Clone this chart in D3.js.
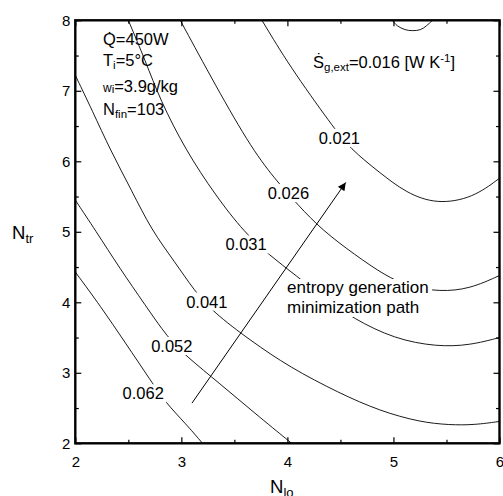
<!DOCTYPE html>
<html>
<head>
<meta charset="utf-8">
<script src="https://cdn.jsdelivr.net/npm/d3@7/dist/d3.min.js"></script>
<style>
body { margin: 0; background: #fff; }
text { font-family: Arial, "Liberation Sans", sans-serif; fill: #000; }
</style>
</head>
<body>
<svg width="503" height="496"></svg>
<script>
// axis ticks
var xTicks = [2, 3, 4, 5, 6]
var yTicks = [2, 3, 4, 5, 6, 7, 8]
var xMinor = [2.5, 3.5, 4.5, 5.5]
var yMinor = [2.5, 3.5, 4.5, 5.5, 6.5, 7.5]

// contour lines, [N_lo, N_tr]
var c016 = [[4.99, 8.0], [5.03, 7.92], [5.11, 7.86], [5.18, 7.85], [5.26, 7.86], [5.31, 7.92], [5.37, 8.0]]
var c021 = [[3.76, 8.0], [4.02, 7.35], [4.42, 6.51], [4.59, 6.18], [4.87, 5.84], [5.12, 5.55], [5.41, 5.39], [5.75, 5.48], [6.0, 5.76]]
var c026 = [[2.99, 8.0], [3.32, 7.08], [3.67, 6.16], [3.91, 5.70], [4.10, 5.38], [4.33, 5.02], [4.64, 4.67], [4.92, 4.38], [5.15, 4.22], [5.44, 4.15], [5.72, 4.19], [6.0, 4.38]]
var c031 = [[2.50, 8.0], [2.66, 7.43], [2.80, 6.87], [3.04, 6.16], [3.32, 5.52], [3.60, 4.98], [3.83, 4.67], [4.08, 4.38], [4.35, 4.06], [4.62, 3.77], [5.01, 3.48], [5.41, 3.37], [5.72, 3.39], [6.0, 3.50]]
var c041 = [[2.0, 7.22], [2.16, 6.72], [2.33, 6.16], [2.53, 5.59], [2.72, 5.02], [2.94, 4.57], [3.12, 4.17], [3.30, 3.86], [3.65, 3.46], [4.02, 3.08], [4.49, 2.71], [4.87, 2.46], [5.25, 2.30], [5.53, 2.26], [5.76, 2.26], [6.0, 2.31]]
var c052 = [[2.0, 5.45], [2.19, 5.02], [2.42, 4.48], [2.66, 3.96], [2.87, 3.50], [3.05, 3.23], [3.36, 2.85], [3.69, 2.43], [4.04, 2.0]]
var c062 = [[2.0, 4.43], [2.24, 3.94], [2.47, 3.43], [2.72, 2.87], [2.85, 2.58], [3.04, 2.28], [3.20, 2.0]]

// inline contour labels and where they sit
var labelText = ["0.021", "0.026", "0.031", "0.041", "0.052", "0.062"]
var labelX = [4.49, 4.01, 3.61, 3.24, 2.91, 2.64]
var labelY = [6.33, 5.55, 4.82, 4.01, 3.38, 2.71]

// minimization path arrow
var pathFrom = [3.10, 2.57]
var pathTo = [4.55, 5.70]

var svg = d3.select("svg")
var pL = 75.3, pR = 499.5, pT = 20.3, pB = 443.3

var x = d3.scaleLinear().domain([2, 6]).range([pL, pR])
var y = d3.scaleLinear().domain([2, 8]).range([pB, pT])

var defs = svg.append("defs")
defs.append("clipPath").attr("id", "plot")
    .append("rect").attr("x", pL).attr("y", pT)
    .attr("width", pR - pL).attr("height", pB - pT)

defs.append("marker").attr("id", "head")
    .attr("viewBox", "0 0 10 10").attr("refX", 10).attr("refY", 5)
    .attr("markerWidth", 11).attr("markerHeight", 8)
    .attr("markerUnits", "userSpaceOnUse")
    .attr("orient", "auto")
    .append("path").attr("d", "M0,0 L10,5 L0,10 Z").attr("fill", "#000")

var line = d3.line()
    .x(d => x(d[0]))
    .y(d => y(d[1]))
    .curve(d3.curveBasis)

var g = svg.append("g").attr("clip-path", "url(#plot)")
g.selectAll("path.contour")
    .data([c016, c021, c026, c031, c041, c052, c062])
    .enter()
    .append("path")
    .attr("class", "contour")
    .attr("d", d => line(d))
    .attr("fill", "none")
    .attr("stroke", "#000")
    .attr("stroke-width", 0.9)

// labels with white boxes that break the lines
var lab = svg.append("g").selectAll("g")
    .data(labelText)
    .enter()
    .append("g")
    .attr("transform", (d, i) => "translate(" + x(labelX[i]) + "," + y(labelY[i]) + ")")
lab.append("rect")
    .attr("x", -23).attr("y", -9).attr("width", 46).attr("height", 18)
    .attr("fill", "#fff")
lab.append("text")
    .attr("text-anchor", "middle")
    .attr("dy", "0.36em")
    .style("font-size", "16.5px")
    .text(d => d)

// path annotation
svg.append("rect").attr("x", 285).attr("y", 279).attr("width", 147).attr("height", 38).attr("fill", "#fff")
svg.append("text").attr("x", 287).attr("y", 293).style("font-size", "17px").text("entropy generation")
svg.append("text").attr("x", 287).attr("y", 313).style("font-size", "17px").text("minimization path")

svg.append("line")
    .attr("x1", x(pathFrom[0])).attr("y1", y(pathFrom[1]))
    .attr("x2", x(pathTo[0])).attr("y2", y(pathTo[1]))
    .attr("stroke", "#000").attr("stroke-width", 1)
    .attr("marker-end", "url(#head)")

// axes, ticks inward
function addAxis(axis, tr) {
    var a = svg.append("g").attr("transform", tr).call(axis)
    a.select(".domain").remove()
    a.selectAll("line").attr("stroke", "#000").attr("stroke-width", 1.2)
    a.selectAll("text").style("font-size", "15px").style("font-family", "Arial, 'Liberation Sans', sans-serif").attr("fill", "#000")
    return a
}
addAxis(d3.axisBottom(x).tickValues(xTicks).tickSize(-6).tickPadding(13.4).tickFormat(d3.format("d")), "translate(0," + pB + ")")
addAxis(d3.axisBottom(x).tickValues(xMinor).tickSize(-3.5).tickFormat(""), "translate(0," + pB + ")")
addAxis(d3.axisTop(x).tickValues(xTicks).tickSize(-6).tickFormat(""), "translate(0," + pT + ")")
addAxis(d3.axisTop(x).tickValues(xMinor).tickSize(-3.5).tickFormat(""), "translate(0," + pT + ")")
addAxis(d3.axisLeft(y).tickValues(yTicks).tickSize(-6).tickPadding(5).tickFormat(d3.format("d")), "translate(" + pL + ",0)")
addAxis(d3.axisLeft(y).tickValues(yMinor).tickSize(-3.5).tickFormat(""), "translate(" + pL + ",0)")
addAxis(d3.axisRight(y).tickValues(yTicks).tickSize(-6).tickFormat(""), "translate(" + pR + ",0)")
addAxis(d3.axisRight(y).tickValues(yMinor).tickSize(-3.5).tickFormat(""), "translate(" + pR + ",0)")

svg.append("rect")
    .attr("x", pL).attr("y", pT)
    .attr("width", pR - pL).attr("height", pB - pT)
    .attr("fill", "none").attr("stroke", "#000").attr("stroke-width", 2.4)

// axis titles
var xt = svg.append("text").attr("x", 270).attr("y", 493).style("font-size", "18.5px")
xt.append("tspan").text("N")
xt.append("tspan").attr("dy", 4).style("font-size", "13px").text("lo")

var yt = svg.append("text").attr("x", 12).attr("y", 239).style("font-size", "18.5px")
yt.append("tspan").text("N")
yt.append("tspan").attr("dy", 4).style("font-size", "13px").text("tr")

// conditions
var info = svg.append("g").style("font-size", "16.5px")
info.append("text").attr("x", 103).attr("y", 45).text("Q\u0307=450W")
var t2 = info.append("text").attr("x", 103).attr("y", 66)
t2.append("tspan").text("T")
t2.append("tspan").attr("dy", 3).style("font-size", "11.5px").text("i")
t2.append("tspan").attr("dy", -3).text("=5\u00b0C")
var t3 = info.append("text").attr("x", 103).attr("y", 92)
t3.append("tspan").style("font-size", "12px").text("w")
t3.append("tspan").attr("dy", 1).style("font-size", "11.5px").text("i")
t3.append("tspan").attr("dy", -1).text("=3.9g/kg")
var t4 = info.append("text").attr("x", 103).attr("y", 115)
t4.append("tspan").text("N")
t4.append("tspan").attr("dy", 3).style("font-size", "11.5px").text("fin")
t4.append("tspan").attr("dy", -3).text("=103")

var s = svg.append("text").attr("x", 313).attr("y", 68).style("font-size", "16.5px")
s.append("tspan").text("\u1e60")
s.append("tspan").attr("dy", 3).style("font-size", "11.5px").text("g,ext")
s.append("tspan").attr("dy", -3).text("=0.016 [W K")
s.append("tspan").attr("dy", -6).style("font-size", "11.5px").text("-1")
s.append("tspan").attr("dy", 6).text("]")
</script>
</body>
</html>
